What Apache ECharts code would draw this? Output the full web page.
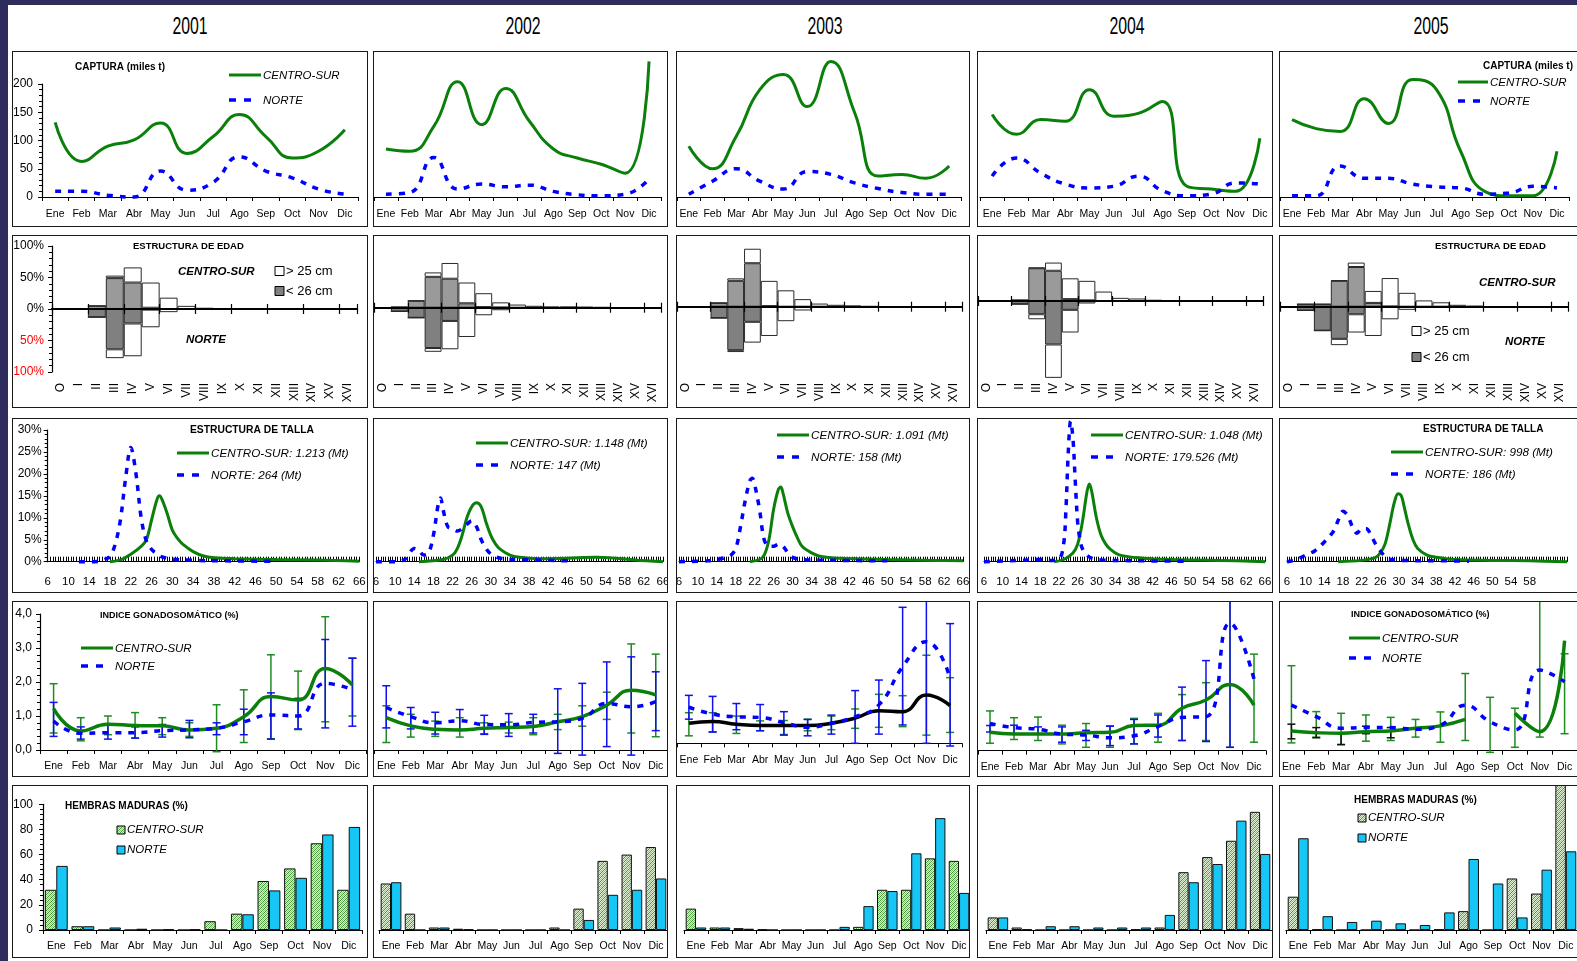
<!DOCTYPE html>
<html><head><meta charset="utf-8">
<script src="https://cdn.jsdelivr.net/npm/echarts@6/dist/echarts.min.js"></script>
<style>
body{margin:0;background:#2d2c5c;width:1577px;height:961px;overflow:hidden;position:relative}
#sheet{position:absolute;left:8px;top:5px;width:1569px;height:956px;background:#fff}
.yr{position:absolute;top:12px;width:80px;text-align:center;font-family:'Liberation Sans',Arial,sans-serif;font-size:24px;color:#000;transform:scaleX(0.66)}
</style></head>
<body><div id="sheet"></div>
<script>
// ---------------- DATA ----------------
const months = ['Ene','Feb','Mar','Abr','May','Jun','Jul','Ago','Sep','Oct','Nov','Dic'];
const years = ['2001','2002','2003','2004','2005'];
const ageClasses = ['O','I','II','III','IV','V','VI','VII','VIII','IX','X','XI','XII','XIII','XIV','XV','XVI'];

// CAPTURA (miles t)
const capturaCentroSur = [
  [132,63,90,101,131,77,107,146,107,69,81,119],
  [85,81,125,204,128,192,134,85,69,58,42,240],
  [90,50,107,190,217,160,240,150,37,40,33,55],
  [146,111,137,134,190,143,148,169,19,14,10,104],
  [137,121,116,174,130,208,190,81,10,2,2,81]
];
const capturaNorte = [
  [10,10,3,0,46,12,26,71,46,34,14,5],
  [5,8,70,14,23,18,21,10,4,2,5,32],
  [5,28,50,28,14,45,40,25,15,8,5,5],
  [37,69,42,23,16,19,37,11,2,5,25,23],
  [2,2,55,33,33,23,18,16,5,7,19,16]
];

// ESTRUCTURA DE EDAD (%), segment heights
const edadCSmenor26 = [
  [0,0,5,49,42,2,0,0,0,0,0,0,0,0,0,0,0],
  [0,1,11,49,46,7,1,0.5,0,0,0,0,0,0,0,0,0],
  [0,0,6,41,69,1,0,0,0,0,0,0,0,0,0,0,0],
  [0,0,1.5,52,48,3,1,0,0,0,0,0,0,0,0,0,0],
  [0,4,4,41,63,6,0.5,0,0,0,0,0,0,0,0,0,0]
];
const edadCSmayor25 = [
  [0,0,0,4,24,40,18,5,2,1.5,1,1,0.5,0.5,0.3,0,0],
  [0,0,0,7,25,33,22,8,5,3,2,2,1.5,1,0.5,0,0],
  [0,0,0,4,23,40,26,12,5,3,2,1,0.5,0,0,0,0],
  [0,0,0,1,13,33,31,15,5,4,2,1,0.5,0,0,0,0],
  [0,0,0,1,7,19,45,22,10,7,3,1.5,0.5,0.5,0,0,0]
];
const edadNmenor26 = [
  [0,0,13,64,23,1,0,0,0,0,0,0,0,0,0,0,0],
  [0,6,16,64,21,0.5,0,0,0,0,0,0,0,0,0,0,0],
  [0,0,18,69,24,0.5,0,0,0,0,0,0,0,0,0,0,0],
  [0,0,5,21,69,14,0.5,0,0,0,0,0,0,0,0,0,0],
  [0,6,38,51,12,0.5,0,0,0,0,0,0,0,0,0,0,0]
];
const edadNmayor25 = [
  [0,0,0,14,52,28,5,1,1,0.5,0.5,0.5,0,0,0,0,0],
  [0,0,0,6,45,46,12,4,2,1,1,1,0.5,0.5,0,0,0],
  [0,0,0,3,33,46,23,6,2,1,0.5,0.5,0,0,0,0,0],
  [0,0,0,8,53,36,3.5,1,1,0.5,0.5,0,0,0,0,0,0],
  [0,0,0,10,29,46,20,5,1,0.5,0,0,0,0,0,0,0]
];

// ESTRUCTURA DE TALLA [cm, %]
const tallaCentroSur = [
  [[18,0],[20,0.4],[22,1.7],[24,3.5],[25,5],[26,9.5],[27,14],[27.5,15],[28,14.2],[29,11],[30,7.2],[31,5.3],[32,4],[34,2.3],[36,1.3],[38,0.9],[42,0.7],[50,0.5],[58,0.4],[66,0.1]],
  [[15,0],[20,0.5],[22,1.5],[23,3],[24,6],[25,10],[26,12.5],[27,13.4],[28,12.5],[29,9],[30,6],[31,4],[32,2.8],[34,1.5],[36,1],[40,0.7],[46,0.8],[52,1],[56,0.8],[60,0.4],[66,0]],
  [[21,0],[23,0.5],[24,1.5],[25,5],[26,12],[27,16.5],[27.5,17],[28,15.5],[29,11],[30,8],[31,5.5],[32,3.5],[34,2],[36,1.2],[40,0.8],[50,0.5],[60,0.3],[66,0.2]],
  [[21,0],[23,0.5],[25,2],[26,4],[27,9],[28,16],[28.5,17.7],[29,16],[30,10],[31,6],[32,4],[33,2.8],[35,1.5],[40,0.8],[46,0.5],[56,0.3],[66,0]],
  [[17,0],[22,0.3],[25,1],[26,2],[27,4],[28,8.5],[29,13.5],[29.8,15.5],[30.5,15],[31,13],[32,8.5],[33,5],[34,3],[36,1.5],[38,1],[42,0.5],[50,0.3],[58,0.2],[66,0]]
];
const tallaNorte = [
  [[12,0],[15,0],[16,0.1],[17,0.5],[18,1.2],[19,4],[20,9.5],[21,19],[22,26],[23,20],[24,10],[25,4.7],[26,2.8],[27,1.8],[28,1.1],[30,0.6],[34,0.3],[40,0.2],[49,0.1]],
  [[6,0],[10,0],[12,0.5],[13,2],[14,3],[15,2.5],[16,1.5],[17,2],[18,6],[19,13],[19.5,14.5],[20,12],[21,8],[22,7.5],[23,7],[24,7.5],[25,8.5],[26,9.3],[27,8],[28,5],[29,3],[30,1.8],[32,0.8],[36,0.5],[40,0.4],[46,0.2]],
  [[6,0],[12,0.2],[14,0.5],[16,1],[17,1.5],[18,3],[19,8],[20,14],[21,18.5],[21.5,19],[22,17.5],[23,12],[24,5],[25,3.5],[26,3.5],[27,4],[28,3.5],[29,2],[30,1],[32,0.5],[40,0.3],[50,0.2]],
  [[6,0],[14,0.3],[18,0.5],[20,0.3],[22,0.6],[23,4],[23.5,12],[24,25],[24.5,32],[25,28],[25.5,18],[26,9],[26.5,5],[27,3],[28,1.5],[29,0.8],[31,0.4],[40,0.2],[50,0.1]],
  [[6,0],[8,0.5],[10,1.5],[12,2.5],[14,4.5],[16,7],[17,9.5],[18,11.5],[19,10.5],[20,8],[21,6.5],[22,7.5],[23,7.5],[24,6],[25,4],[26,2.5],[27,1.2],[28,0.6],[30,0.3],[40,0.2],[45,0.1]]
];
const tallaBiomasaCS = ['1.213','1.148','1.091','1.048','998'];
const tallaBiomasaN = ['264','147','158','179.526','186'];

// INDICE GONADOSOMATICO (%)
const igsCentroSur = [
  [1.22,0.56,0.76,0.72,0.71,0.59,0.64,0.98,1.57,1.47,2.4,1.91],
  [0.95,0.71,0.61,0.59,0.64,0.66,0.69,0.83,0.98,1.32,1.76,1.62],
  [0.59,0.64,0.56,0.52,0.52,0.52,0.59,0.74,0.96,0.93,1.42,1.11],
  [0.54,0.49,0.49,0.49,0.53,0.54,0.74,0.75,1.25,1.49,1.95,1.34],
  [0.58,0.53,0.51,0.56,0.58,0.66,0.73,0.92,null,1.1,0.56,3.24]
];
const igsCSmin = [
  [0.5,0.27,0.45,0.35,0.45,0.4,-0.05,0.22,0.33,0.6,0.83,1.0],
  [0.22,0.38,0.4,0.38,0.48,0.5,0.45,0.6,0.7,0.9,0.5,0.39],
  [0.22,0.34,0.29,0.37,0.26,0.37,0.4,0.44,0.47,0.49,0.24,0.32],
  [0.22,0.33,0.3,0.2,0.1,0.1,0.2,0.25,0.3,0.3,0.1,0.25],
  [0.23,0.4,0.18,0.28,0.3,0.4,0.25,0.3,-0.05,0.1,0.4,0.5]
];
const igsCSmax = [
  [1.95,0.95,1.0,1.1,0.95,0.8,1.33,1.77,2.8,2.32,3.92,2.7],
  [1.3,1.05,0.85,0.95,0.8,0.82,0.95,1.05,1.3,1.7,3.12,2.82],
  [0.9,0.9,0.8,0.66,0.67,0.71,0.8,1.01,1.44,1.4,2.59,1.93],
  [1.17,0.97,0.99,0.75,0.8,0.73,0.95,1.1,1.65,2.0,4.4,2.84],
  [2.5,1.15,1.1,1.05,0.98,0.92,1.14,2.27,1.57,1.25,4.5,2.85]
];
const igsNorte = [
  [0.85,0.49,0.51,0.51,0.57,0.59,0.64,0.83,1.03,1.0,1.96,1.78],
  [1.25,0.98,0.8,0.86,0.75,0.74,0.81,0.83,0.93,1.37,1.27,1.42],
  [1.06,0.86,0.78,0.76,0.61,0.47,0.59,0.78,1.13,2.25,2.99,1.91],
  [0.8,0.68,0.63,0.49,0.46,0.38,0.44,0.71,0.98,1.0,3.75,2.11],
  [1.34,1.0,0.66,0.68,0.68,0.63,0.75,1.34,0.85,0.61,2.37,2.03]
];
const igsNmin = [
  [0.4,0.32,0.32,0.35,0.38,0.36,0.45,0.45,0.32,0.62,0.65,0.7],
  [0.65,0.62,0.47,0.6,0.46,0.4,0.5,-0.1,-0.15,0.1,-0.15,0.57],
  [0.71,0.33,0.4,0.37,0.24,0.22,0.27,0,0.27,0.54,0,-0.08],
  [0.55,0.5,0.5,0.25,0.3,0.15,0.2,0.4,0.3,0.27,0.1,null],
  [0.35,0.38,0.18,0.5,0.38,null,null,null,null,null,null,null]
];
const igsNmax = [
  [1.4,0.68,0.75,0.68,0.75,0.87,0.8,1.2,1.68,1.52,3.25,2.7],
  [1.89,1.25,1.11,1.19,1.02,1.07,1.05,1.8,1.96,2.59,2.74,2.3],
  [1.41,1.38,1.17,1.14,0.93,0.7,0.83,1.55,1.86,4.0,4.5,3.52],
  [0.74,0.75,0.7,0.7,0.6,0.72,0.92,1.05,1.87,2.65,4.4,null],
  [0.78,0.68,0.5,0.72,0.68,null,null,null,null,null,null,null]
];

// HEMBRAS MADURAS (%)
const maduraCentroSur = [
  [32,3,0,0,0,0,7,13,39,49,69,32],
  [37,13,2,1,0,0,0,2,17,55,60,66],
  [17,2,1.5,0.5,0,0,0,2.5,32,32,57,55],
  [10,2,0,0,0,0,0.5,2,46,58,71,94],
  [26.5,0.5,0,0,0,0,0.5,15,0,41,29,116]
];
const maduraNorte = [
  [51,3,2,1,0.5,0.5,0,12.5,31.5,41.5,76,82],
  [38,0,2,0.5,0,0,0,0,8,28,32,41],
  [2,2,1,0,0,0,2.5,19,31,61,89,29.5],
  [10,0.5,3,3,2,2,2,12,38,52.5,87,60.5],
  [73,11,6.4,7.4,5.3,4,14,56.5,37,10,48,62.6]
];

// ---------------- LAYOUT / STYLE ----------------
const F = "'Liberation Sans',Arial,sans-serif";
const FA = "'Liberation Sans',Arial,sans-serif";
const GREEN = '#0a800a', BLUE = '#0000ff', CYAN = '#16c6f4';
const COLS = [[12,368],[373,668],[676,970],[977,1273],[1279,1600]];
const ROWS = [[51,227],[235,408],[418,593],[601,777],[785,958]];
const yearX = [190,523,825,1127,1431];

years.forEach((y,i)=>{
  const d=document.createElement('div'); d.className='yr'; d.textContent=y;
  d.style.left=(yearX[i]-40)+'px'; document.body.appendChild(d);
});

// pattern for CENTRO-SUR bars
const pc=document.createElement('canvas'); pc.width=4; pc.height=4;
(function(){const c=pc.getContext('2d');c.fillStyle='#dff1d3';c.fillRect(0,0,4,4);
 c.fillStyle='#3f9a34';for(let i=0;i<4;i++)c.fillRect(i,3-i,1,1);
 c.fillStyle='#8cc47c';for(let i=0;i<4;i++)c.fillRect((i+2)%4,3-i,1,1);})();
const PAT = {image: pc, repeat: 'repeat'};

function panel(ci, ri, g, build){
  const [x0,x1]=COLS[ci], [y0,y1]=ROWS[ri];
  const el=document.createElement('div');
  el.style.cssText=`position:absolute;left:${x0}px;top:${y0}px;width:${x1-x0}px;height:${y1-y0}px;`;
  document.body.appendChild(el);
  const grid={left:g[0]-x0,top:g[1]-y0,width:g[2]-g[0],height:g[3]-g[1],containLabel:false,outerBoundsMode:'none'};
  const P=(x,y)=>[x-x0,y-y0];
  const opt=build(grid,P); opt.animation=false;
  const ch=echarts.init(el); ch.setOption(opt);
  const b=document.createElement('div');
  b.style.cssText=`position:absolute;left:${x0}px;top:${y0}px;width:${x1-x0}px;height:${y1-y0}px;border:1.5px solid #1a1a1a;box-sizing:border-box;pointer-events:none;`;
  document.body.appendChild(b);
}
function T(P,x,y,text,font,fill){const p=P(x,y);return {type:'text',x:p[0],y:p[1],z:100,style:{text,font,fill:fill||'#000',verticalAlign:'middle',align:'left'}};}
function Ln(P,x1,y1,x2,y2,stroke,w,dash){const a=P(x1,y1),b=P(x2,y2);return {type:'line',z:100,shape:{x1:a[0],y1:a[1],x2:b[0],y2:b[1]},style:{stroke,lineWidth:w,lineDash:dash||null}};}
function Rc(P,x,y,w,h,fill){const a=P(x,y);return {type:'rect',z:100,shape:{x:a[0],y:a[1],width:w,height:h},style:{fill,stroke:'#000',lineWidth:1}};}
function legLines(P,x,yA,yB,w,tA,tB,font){
  return [Ln(P,x,yA,x+w,yA,GREEN,3),Ln(P,x,yB,x+22,yB,BLUE,3.5,[7,8]),T(P,x+w+2,yA+1,tA,font),T(P,x+w+2,yB+1,tB,font)];
}

function xCat(data, margin){
  return {type:'category',data,boundaryGap:true,
    axisLine:{show:true,onZero:false,lineStyle:{color:'#000',width:1.2}},
    axisTick:{show:true,length:4,lineStyle:{color:'#000'}},
    axisLabel:{color:'#000',fontFamily:F,fontSize:10.5,margin,interval:0},
    splitLine:{show:false}};
}
function yAx(show,min,max,interval,fmt,margin,color){
  return {type:'value',min,max,interval,show,
    axisLine:{show:true,lineStyle:{color:'#000',width:1.2}},
    axisTick:{show:true,length:4,lineStyle:{color:'#000'}},
    minorTick:{show:true,splitNumber:5,length:3,lineStyle:{color:'#000'}},
    splitLine:{show:false},minorSplitLine:{show:false},
    axisLabel:{show:true,formatter:fmt,margin,fontFamily:FA,fontSize:12,color:color||'#000'}};
}
function line(data,color,dashed,w,smooth){
  return {type:'line',data,smooth:smooth==null?0.5:smooth,symbol:'none',clip:false,connectNulls:false,z:3,
    lineStyle:{color,width:w||3,type:dashed?[6,7]:'solid',cap:'butt'}};
}
function errBars(lo,hi,color){
  const data=[]; lo.forEach((l,i)=>{ if(l!=null && hi[i]!=null) data.push([i,l,hi[i]]); });
  return {type:'custom',clip:false,z:2,data,renderItem:(params,api)=>{
    const x=api.value(0), a=api.coord([x,api.value(1)]), b=api.coord([x,api.value(2)]), w=4;
    const st={stroke:color,lineWidth:1.5};
    return {type:'group',children:[
      {type:'line',shape:{x1:a[0],y1:a[1],x2:b[0],y2:b[1]},style:st},
      {type:'line',shape:{x1:a[0]-w,y1:a[1],x2:a[0]+w,y2:a[1]},style:st},
      {type:'line',shape:{x1:b[0]-w,y1:b[1],x2:b[0]+w,y2:b[1]},style:st}]};
  }};
}
const LEGF = 'italic 11.5px '+F;

// ---------------- ROW 1 : CAPTURA ----------------
const capX=[[42,358],[374,661],[677,961],[980,1272],[1280,1569]];
for(let c=0;c<5;c++){
  panel(c,0,[capX[c][0],84,capX[c][1],197],(grid,P)=>{
    let gr=[];
    if(c===0) gr=[T(P,75,67,'CAPTURA (miles t)','bold 10px '+FA)].concat(legLines(P,229,75,100,32,'CENTRO-SUR','NORTE',LEGF));
    if(c===4) gr=[T(P,1483,66,'CAPTURA (miles t)','bold 10px '+FA)].concat(legLines(P,1458,82,101,30,'CENTRO-SUR','NORTE',LEGF));
    return {grid,xAxis:xCat(months,12),
      yAxis:yAx(c===0,0,200,50,v=>String(v),9),
      series:[line(capturaCentroSur[c],GREEN,false,3),line(capturaNorte[c],BLUE,true,3.5)],
      graphic:gr};
  });
}

// ---------------- ROW 2 : ESTRUCTURA DE EDAD ----------------
const edadX=[[52,357],[374,661],[677,962],[978,1263],[1280,1568]];
const edadZero=[309,307.7,306.7,301,306.7];
for(let c=0;c<5;c++){
  const z=edadZero[c], top=z-63, bot=z+63;
  panel(c,1,[edadX[c][0],top,edadX[c][1],bot],(grid,P)=>{
    const mk=(yi,inside)=>({type:'category',data:ageClasses,boundaryGap:true,z:10,position:'bottom',
      axisLine:{show:true,onZero:true,onZeroAxisIndex:yi,lineStyle:{color:'#000',width:2}},
      axisTick:{show:true,inside,length:5,lineStyle:{color:'#000',width:1.2}},
      axisLabel:{show:false},splitLine:{show:false}});
    const xs=[mk(0,false),mk(1,true),
      {type:'category',data:ageClasses,boundaryGap:true,position:'bottom',
        axisLine:{show:false,onZero:false},axisTick:{show:false},splitLine:{show:false},
        axisLabel:{rotate:90,margin:383-bot,interval:0,fontFamily:FA,fontSize:12,color:'#000'}}
    ];
    const ys=[yAx(c===0,-100,100,50,v=>Math.abs(v)+'%',8,v=>Number(v)<0?'#ff0000':'#000'),
      {type:'value',min:-100,max:100,show:false}];
    const bs={borderColor:'#2a2a2a',borderWidth:1};
    const series=[
      {type:'bar',stack:'cs',data:edadCSmenor26[c],clip:false,barCategoryGap:'0%',barGap:'-100%',itemStyle:Object.assign({color:'#9a9a9a'},bs)},
      {type:'bar',stack:'cs',data:edadCSmayor25[c],clip:false,itemStyle:Object.assign({color:'#ffffff'},bs)},
      {type:'bar',stack:'n',data:edadNmenor26[c].map(v=>-v),clip:false,itemStyle:Object.assign({color:'#808080'},bs)},
      {type:'bar',stack:'n',data:edadNmayor25[c].map(v=>-v),clip:false,itemStyle:Object.assign({color:'#ffffff'},bs)}
    ];
    let gr=[];
    const leg=(x,yA,yB)=>[Rc(P,x,yA-4.5,9,9,'#fff'),T(P,x+11,yA,'> 25 cm','13px '+FA),Rc(P,x,yB-4.5,9,9,'#808080'),T(P,x+11,yB,'< 26 cm','13px '+FA)];
    if(c===0) gr=[T(P,133,246,'ESTRUCTURA DE EDAD','bold 9.5px '+FA),T(P,178,272,'CENTRO-SUR','italic bold 11.5px '+FA),T(P,186,340,'NORTE','italic bold 11.5px '+FA)].concat(leg(275,271,291));
    if(c===4) gr=[T(P,1435,246,'ESTRUCTURA DE EDAD','bold 9.5px '+FA),T(P,1479,283,'CENTRO-SUR','italic bold 11.5px '+FA),T(P,1505,342,'NORTE','italic bold 11.5px '+FA)].concat(leg(1412,331,357));
    return {grid,xAxis:xs,yAxis:ys,series,graphic:gr};
  });
}

// ---------------- ROW 3 : ESTRUCTURA DE TALLA ----------------
const tallaX=[[47.7,359.3],[376,663],[679,963],[984,1265],[1287,1567]];
const tallaLeg=[[177,453,475],[476,443,465],[777,435,457],[1091,435,457],[1391,452,474]];
for(let c=0;c<5;c++){
  panel(c,2,[tallaX[c][0],430,tallaX[c][1],561.7],(grid,P)=>{
    const L=tallaLeg[c];
    let gr=legLines(P,L[0],L[1],L[2],32,'CENTRO-SUR: '+tallaBiomasaCS[c]+' (Mt)','NORTE: '+tallaBiomasaN[c]+' (Mt)','italic 11.7px '+F);
    if(c===0) gr.push(T(P,190,430,'ESTRUCTURA DE TALLA','bold 10.3px '+FA));
    if(c===4) gr.push(T(P,1423,429,'ESTRUCTURA DE TALLA','bold 10px '+FA));
    return {grid,
      xAxis:{type:'value',min:6,max:66,interval:4,
        axisLine:{show:true,onZero:false,lineStyle:{color:'#000',width:1.2}},
        axisTick:{show:true,inside:true,length:5,lineStyle:{color:'#000'}},
        minorTick:{show:true,splitNumber:8,length:5,lineStyle:{color:'#000'}},
        splitLine:{show:false},minorSplitLine:{show:false},
        axisLabel:{color:'#000',fontFamily:F,fontSize:11.5,margin:14,showMinLabel:true,showMaxLabel:true,
          formatter:v=>(c===4&&v>58)?'':String(v)}},
      yAxis:yAx(c===0,0,30,5,v=>v+'%',6),
      series:[line(tallaCentroSur[c],GREEN,false,3,0.35),line(tallaNorte[c],BLUE,true,3.5,0.35)],
      graphic:gr};
  });
}

// ---------------- ROW 4 : INDICE GONADOSOMATICO ----------------
const igsX=[[40,366],[374,668],[677,962],[978,1266],[1279,1577]];
const igsZero=[750,750,743.3,750.7,750.7];
for(let c=0;c<5;c++){
  const z=igsZero[c];
  panel(c,3,[igsX[c][0],z-136,igsX[c][1],z],(grid,P)=>{
    let gr=[];
    if(c===0) gr=[T(P,100,616,'INDICE GONADOSOMÁTICO (%)','bold 9px '+FA)].concat(legLines(P,81,648,666,32,'CENTRO-SUR','NORTE',LEGF));
    if(c===4) gr=[T(P,1351,615,'INDICE GONADOSOMÁTICO (%)','bold 9px '+FA)].concat(legLines(P,1349,638,658,31,'CENTRO-SUR','NORTE',LEGF));
    return {grid,xAxis:xCat(months,11),
      yAxis:yAx(c===0,0,4,1,v=>Number(v).toFixed(1).replace('.',','),8),
      series:[
        errBars(igsCSmin[c],igsCSmax[c],'#1e8c1e'),
        errBars(igsNmin[c],igsNmax[c],c===4?'#111111':'#1010ee'),
        line(igsCentroSur[c],c===2?'#000':GREEN,false,3.5),
        line(igsNorte[c],BLUE,true,3.5)],
      graphic:gr};
  });
}

// ---------------- ROW 5 : HEMBRAS MADURAS ----------------
const madX=[[43,362],[379,668],[684,971],[986,1272],[1286,1578]];
for(let c=0;c<5;c++){
  panel(c,4,[madX[c][0],804.3,madX[c][1],930],(grid,P)=>{
    let gr=[];
    const leg=(x,yA,yB)=>[Rc(P,x,yA-4,8,8,PAT),T(P,x+10,yA,'CENTRO-SUR',LEGF),Rc(P,x,yB-4,8,8,CYAN),T(P,x+10,yB,'NORTE',LEGF)];
    if(c===0) gr=[T(P,65,806,'HEMBRAS MADURAS (%)','bold 10px '+FA)].concat(leg(117,830,850));
    if(c===4) gr=[T(P,1354,800,'HEMBRAS MADURAS (%)','bold 10px '+FA)].concat(leg(1358,818,838));
    return {grid,xAxis:xCat(months,11),
      yAxis:yAx(c===0,0,100,20,v=>String(v),10),
      series:[
        {type:'bar',data:maduraCentroSur[c],clip:false,barGap:'0%',barCategoryGap:'14%',itemStyle:{color:PAT,borderColor:'#111',borderWidth:1}},
        {type:'bar',data:maduraNorte[c],clip:false,itemStyle:{color:CYAN,borderColor:'#111',borderWidth:1}}],
      graphic:gr};
  });
}
</script>
</body></html>
